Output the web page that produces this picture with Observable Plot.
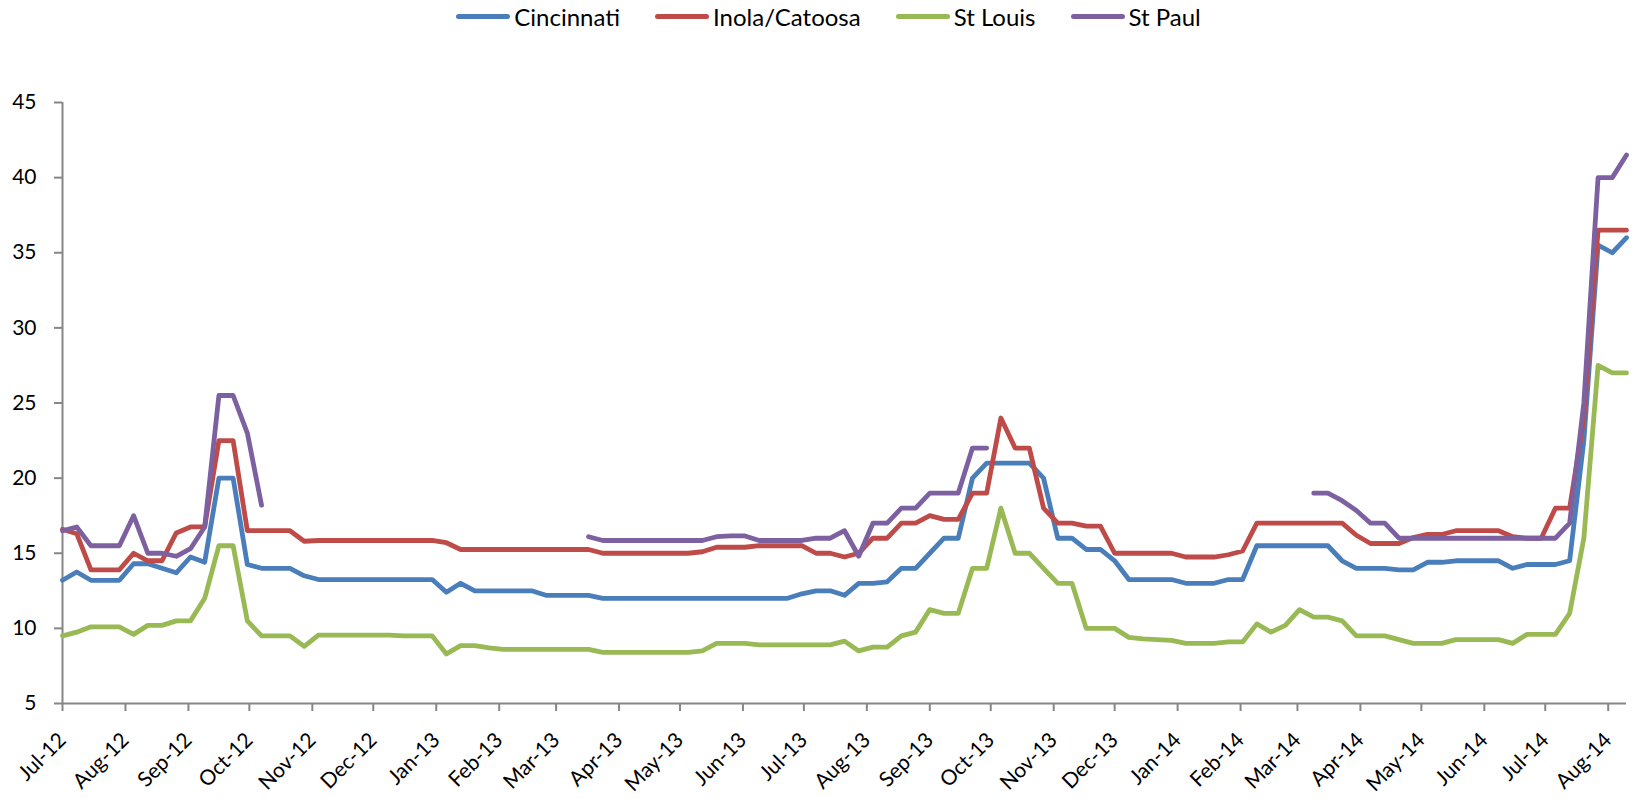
<!DOCTYPE html>
<html>
<head>
<meta charset="utf-8">
<script src="https://cdn.jsdelivr.net/npm/d3@7"></script>
<script src="https://cdn.jsdelivr.net/npm/@observablehq/plot@0.6"></script>
<style>
  html, body { margin: 0; padding: 0; background: #fff; }
  body { width: 1633px; height: 799px; overflow: hidden; font-family: Lato, "Open Sans", sans-serif; color: #000; }
  #legend { height: 32px; display: flex; justify-content: center; align-items: center; padding-left: 24px; box-sizing: border-box; font-size: 24px; }
  .item { display: flex; align-items: center; margin: 0 17.5px; white-space: nowrap; }
  .swatch { width: 54px; height: 5px; border-radius: 3px; margin-right: 4px; }
  #chart svg { display: block; }
</style>
</head>
<body>
<div id="legend"></div>
<div id="chart"></div>
<script>
// Weekly prices, first week starting Sunday 1 July 2012
const firstWeek = new Date(Date.UTC(2012, 6, 1));

const cities = ["Cincinnati", "Inola/Catoosa", "St Louis", "St Paul"];
const colors = ["#4A7EBB", "#BE4B48", "#98B954", "#7D60A0"];

const cincinnati = [
  13.2, 13.75, 13.2, 13.2, 13.2, 14.3, 14.3, 14.0, 13.7, 14.75,
  14.4, 20, 20, 14.25, 14.0, 14.0, 14.0, 13.5, 13.25, 13.25,
  13.25, 13.25, 13.25, 13.25, 13.25, 13.25, 13.25, 12.4, 13.0, 12.5,
  12.5, 12.5, 12.5, 12.5, 12.2, 12.2, 12.2, 12.2, 12.0, 12.0,
  12.0, 12.0, 12.0, 12.0, 12.0, 12.0, 12.0, 12.0, 12.0, 12.0,
  12.0, 12.0, 12.3, 12.5, 12.5, 12.2, 13.0, 13.0, 13.1, 14.0,
  14.0, 15.0, 16.0, 16.0, 20.0, 21.0, 21.0, 21.0, 21.0, 20.0,
  16.0, 16.0, 15.25, 15.25, 14.5, 13.25, 13.25, 13.25, 13.25, 13.0,
  13.0, 13.0, 13.25, 13.25, 15.5, 15.5, 15.5, 15.5, 15.5, 15.5,
  14.5, 14.0, 14.0, 14.0, 13.9, 13.9, 14.4, 14.4, 14.5, 14.5,
  14.5, 14.5, 14.0, 14.25, 14.25, 14.25, 14.5, 22.5, 35.5, 35.0,
  36.0
];

const inolaCatoosa = [
  16.6, 16.3, 13.9, 13.9, 13.9, 15.0, 14.5, 14.5, 16.35, 16.75,
  16.75, 22.5, 22.5, 16.5, 16.5, 16.5, 16.5, 15.8, 15.85, 15.85,
  15.85, 15.85, 15.85, 15.85, 15.85, 15.85, 15.85, 15.7, 15.25, 15.25,
  15.25, 15.25, 15.25, 15.25, 15.25, 15.25, 15.25, 15.25, 15.0, 15.0,
  15.0, 15.0, 15.0, 15.0, 15.0, 15.1, 15.4, 15.4, 15.4, 15.5,
  15.5, 15.5, 15.5, 15.0, 15.0, 14.75, 15.0, 16.0, 16.0, 17.0,
  17.0, 17.5, 17.25, 17.25, 19.0, 19.0, 24.0, 22.0, 22.0, 18.0,
  17.0, 17.0, 16.8, 16.8, 15.0, 15.0, 15.0, 15.0, 15.0, 14.75,
  14.75, 14.75, 14.9, 15.15, 17.0, 17.0, 17.0, 17.0, 17.0, 17.0,
  17.0, 16.2, 15.65, 15.65, 15.65, 16.05, 16.25, 16.25, 16.5, 16.5,
  16.5, 16.5, 16.1, 16.0, 16.0, 18.0, 18.0, 24.0, 36.5, 36.5,
  36.5
];

const stLouis = [
  9.5, 9.75, 10.1, 10.1, 10.1, 9.6, 10.2, 10.2, 10.5, 10.5,
  12.0, 15.5, 15.5, 10.5, 9.5, 9.5, 9.5, 8.8, 9.55, 9.55,
  9.55, 9.55, 9.55, 9.55, 9.5, 9.5, 9.5, 8.3, 8.85, 8.85,
  8.7, 8.6, 8.6, 8.6, 8.6, 8.6, 8.6, 8.6, 8.4, 8.4,
  8.4, 8.4, 8.4, 8.4, 8.4, 8.5, 9.0, 9.0, 9.0, 8.9,
  8.9, 8.9, 8.9, 8.9, 8.9, 9.15, 8.5, 8.75, 8.75, 9.5,
  9.75, 11.25, 11.0, 11.0, 14.0, 14.0, 18.0, 15.0, 15.0, 14.0,
  13.0, 13.0, 10.0, 10.0, 10.0, 9.4, 9.3, 9.25, 9.2, 9.0,
  9.0, 9.0, 9.1, 9.1, 10.3, 9.75, 10.2, 11.25, 10.75, 10.75,
  10.5, 9.5, 9.5, 9.5, 9.25, 9.0, 9.0, 9.0, 9.25, 9.25,
  9.25, 9.25, 9.0, 9.6, 9.6, 9.6, 11.0, 16.0, 27.5, 27.0,
  27.0
];

// null = no quote that week
const stPaul = [
  16.5, 16.75, 15.5, 15.5, 15.5, 17.5, 15.0, 15.0, 14.8, 15.3,
  16.75, 25.5, 25.5, 23.0, 18.2, null, null, null, null, null,
  null, null, null, null, null, null, null, null, null, null,
  null, null, null, null, null, null, null, 16.1, 15.85, 15.85,
  15.85, 15.85, 15.85, 15.85, 15.85, 15.85, 16.1, 16.15, 16.15, 15.85,
  15.85, 15.85, 15.85, 16.0, 16.0, 16.5, 14.8, 17.0, 17.0, 18.0,
  18.0, 19.0, 19.0, 19.0, 22.0, 22.0, null, null, null, null,
  null, null, null, null, null, null, null, null, null, null,
  null, null, null, null, null, null, null, null, 19.0, 19.0,
  18.5, 17.85, 17.0, 17.0, 16.0, 16.0, 16.0, 16.0, 16.0, 16.0,
  16.0, 16.0, 16.0, 16.0, 16.0, 16.0, 17.0, 25.0, 40.0, 40.0,
  41.5
];

const yTicks = [5, 10, 15, 20, 25, 30, 35, 40, 45];

const series = [cincinnati, inolaCatoosa, stLouis, stPaul];
const weeks = d3.utcWeek.range(firstWeek, d3.utcWeek.offset(firstWeek, cincinnati.length));
const monthTicks = d3.utcMonth.range(firstWeek, d3.utcDay.offset(weeks[weeks.length - 1], 1));
const fmt = d3.utcFormat("%b-%y");

const rows = series.flatMap((values, k) =>
  values.map((v, i) => ({date: weeks[i], city: cities[k], price: v == null ? NaN : v}))
);

// Legend
const legend = document.getElementById("legend");
cities.forEach((name, k) => {
  const item = document.createElement("div");
  item.className = "item";
  const sw = document.createElement("span");
  sw.className = "swatch";
  sw.style.background = colors[k];
  const label = document.createElement("span");
  label.textContent = name;
  item.append(sw, label);
  legend.append(item);
});

const axisGrey = "#868686";

const chart = Plot.plot({
  width: 1633,
  height: 767,
  marginTop: 70,
  marginBottom: 96,
  marginLeft: 62,
  marginRight: 7,
  style: {fontFamily: "Lato, 'Open Sans', sans-serif", fontSize: "21px", color: "#000", background: "#fff"},
  x: {type: "utc", domain: [weeks[0], weeks[weeks.length - 1]]},
  y: {domain: [5, 45]},
  color: {domain: cities, range: colors},
  marks: [
    Plot.ruleY([5], {stroke: axisGrey, strokeWidth: 2}),
    Plot.ruleX([weeks[0]], {stroke: axisGrey, strokeWidth: 2}),
    Plot.axisY({ticks: yTicks, tickSize: 8, tickPadding: 18, stroke: axisGrey, strokeWidth: 2, fill: "#000", label: null, fontSize: 21}),
    Plot.axisX({ticks: monthTicks, tickSize: 8, stroke: axisGrey, strokeWidth: 2, tickFormat: () => "", label: null}),
    Plot.text(monthTicks, {x: (d) => d, text: (d) => fmt(d), frameAnchor: "bottom", rotate: -45, textAnchor: "end", lineAnchor: "middle", dy: 33, fontSize: 21, fill: "#000"}),
    Plot.line(rows, {x: "date", y: "price", z: "city", stroke: "city", strokeWidth: 4.8, strokeLinejoin: "round", strokeLinecap: "round"})
  ]
});

document.getElementById("chart").append(chart);
</script>
</body>
</html>
